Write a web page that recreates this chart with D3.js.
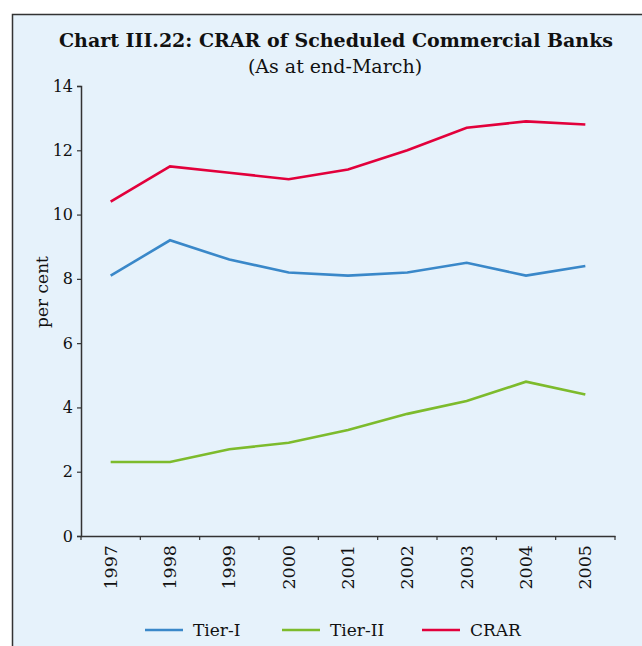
<!DOCTYPE html>
<html><head><meta charset="utf-8">
<script src="https://cdn.jsdelivr.net/npm/d3@7"></script>
<style>
html,body{margin:0;padding:0;background:#fff;}
svg{display:block;}
</style></head>
<body>
<svg id="chart" width="642" height="646"></svg>
<script>
const years = ["1997","1998","1999","2000","2001","2002","2003","2004","2005"];
const tier1 = [8.1, 9.2, 8.6, 8.2, 8.1, 8.2, 8.5, 8.1, 8.4];
const tier2 = [2.3, 2.3, 2.7, 2.9, 3.3, 3.8, 4.2, 4.8, 4.4];
const crar  = [10.4, 11.5, 11.3, 11.1, 11.4, 12.0, 12.7, 12.9, 12.8];
const yTicks = [0, 2, 4, 6, 8, 10, 12, 14];
const seriesNames = ["Tier-I", "Tier-II", "CRAR"];
const seriesColors = ["#3A88C9", "#7DBB2C", "#E2003B"];

const svg = d3.select("#chart");
const serif = "'DejaVu Serif', serif";

// frame
svg.append("rect").attr("x", 12.5).attr("y", 14.5).attr("width", 700).attr("height", 700)
  .attr("fill", "#E6F2FB").attr("stroke", "#333").attr("stroke-width", 1.5);

svg.append("text").attr("x", 336).attr("y", 47).attr("text-anchor", "middle")
  .style("font-family", serif).style("font-weight", "bold").style("font-size", "19px")
  .attr("fill", "#111").text("Chart III.22: CRAR of Scheduled Commercial Banks");
svg.append("text").attr("x", 335).attr("y", 73).attr("text-anchor", "middle")
  .style("font-family", serif).style("font-size", "19px")
  .attr("fill", "#111").text("(As at end-March)");

const x = d3.scaleBand().domain(years).range([81, 615]);
const y = d3.scaleLinear().domain([0, 14]).range([536, 86]);

const yAxis = svg.append("g").attr("transform", "translate(81,0)")
  .call(d3.axisLeft(y).tickValues(yTicks).tickSize(4).tickPadding(4).tickFormat(d3.format("d")));
yAxis.select(".domain").attr("stroke", "#333").attr("stroke-width", 1.5);
yAxis.selectAll(".tick line").attr("stroke", "#333").attr("stroke-width", 1.2);
yAxis.selectAll(".tick text").style("font-family", serif).style("font-size", "16px").attr("fill", "#111");

const xAxis = svg.append("g").attr("transform", "translate(0,536)")
  .call(d3.axisBottom(x).tickSize(0).tickPadding(0));
xAxis.select(".domain").attr("stroke", "#333").attr("stroke-width", 1.5);
xAxis.selectAll(".tick text")
  .attr("transform", "rotate(-90)")
  .attr("x", -9).attr("y", 0).attr("dy", "0.35em")
  .style("text-anchor", "end")
  .style("font-family", serif).style("font-size", "17.5px").attr("fill", "#111");
// boundary ticks
const bounds = years.map(d => x(d)).concat([x.range()[1]]);
svg.append("g").selectAll("line").data(bounds).join("line")
  .attr("x1", d => d).attr("x2", d => d).attr("y1", 536).attr("y2", 540)
  .attr("stroke", "#333").attr("stroke-width", 1.2);

svg.append("text").attr("transform", "translate(42,292) rotate(-90)")
  .attr("text-anchor", "middle").attr("dy", "0.35em")
  .style("font-family", serif).style("font-size", "17px").attr("fill", "#111").text("per cent");

const line = d3.line().x((d, i) => x(years[i]) + x.bandwidth() / 2).y(d => y(d));
[tier1, tier2, crar].forEach((s, k) => {
  svg.append("path").datum(s).attr("d", line).attr("fill", "none")
    .attr("stroke", seriesColors[k]).attr("stroke-width", 2.6);
});

const legendX = [145, 282, 422];
seriesNames.forEach((n, k) => {
  svg.append("line").attr("x1", legendX[k]).attr("x2", legendX[k] + 38)
    .attr("y1", 630).attr("y2", 630).attr("stroke", seriesColors[k]).attr("stroke-width", 2.6);
  svg.append("text").attr("x", legendX[k] + 48).attr("y", 630).attr("dy", "0.35em")
    .style("font-family", serif).style("font-size", "17px").attr("fill", "#111").text(n);
});
</script>
</body></html>
